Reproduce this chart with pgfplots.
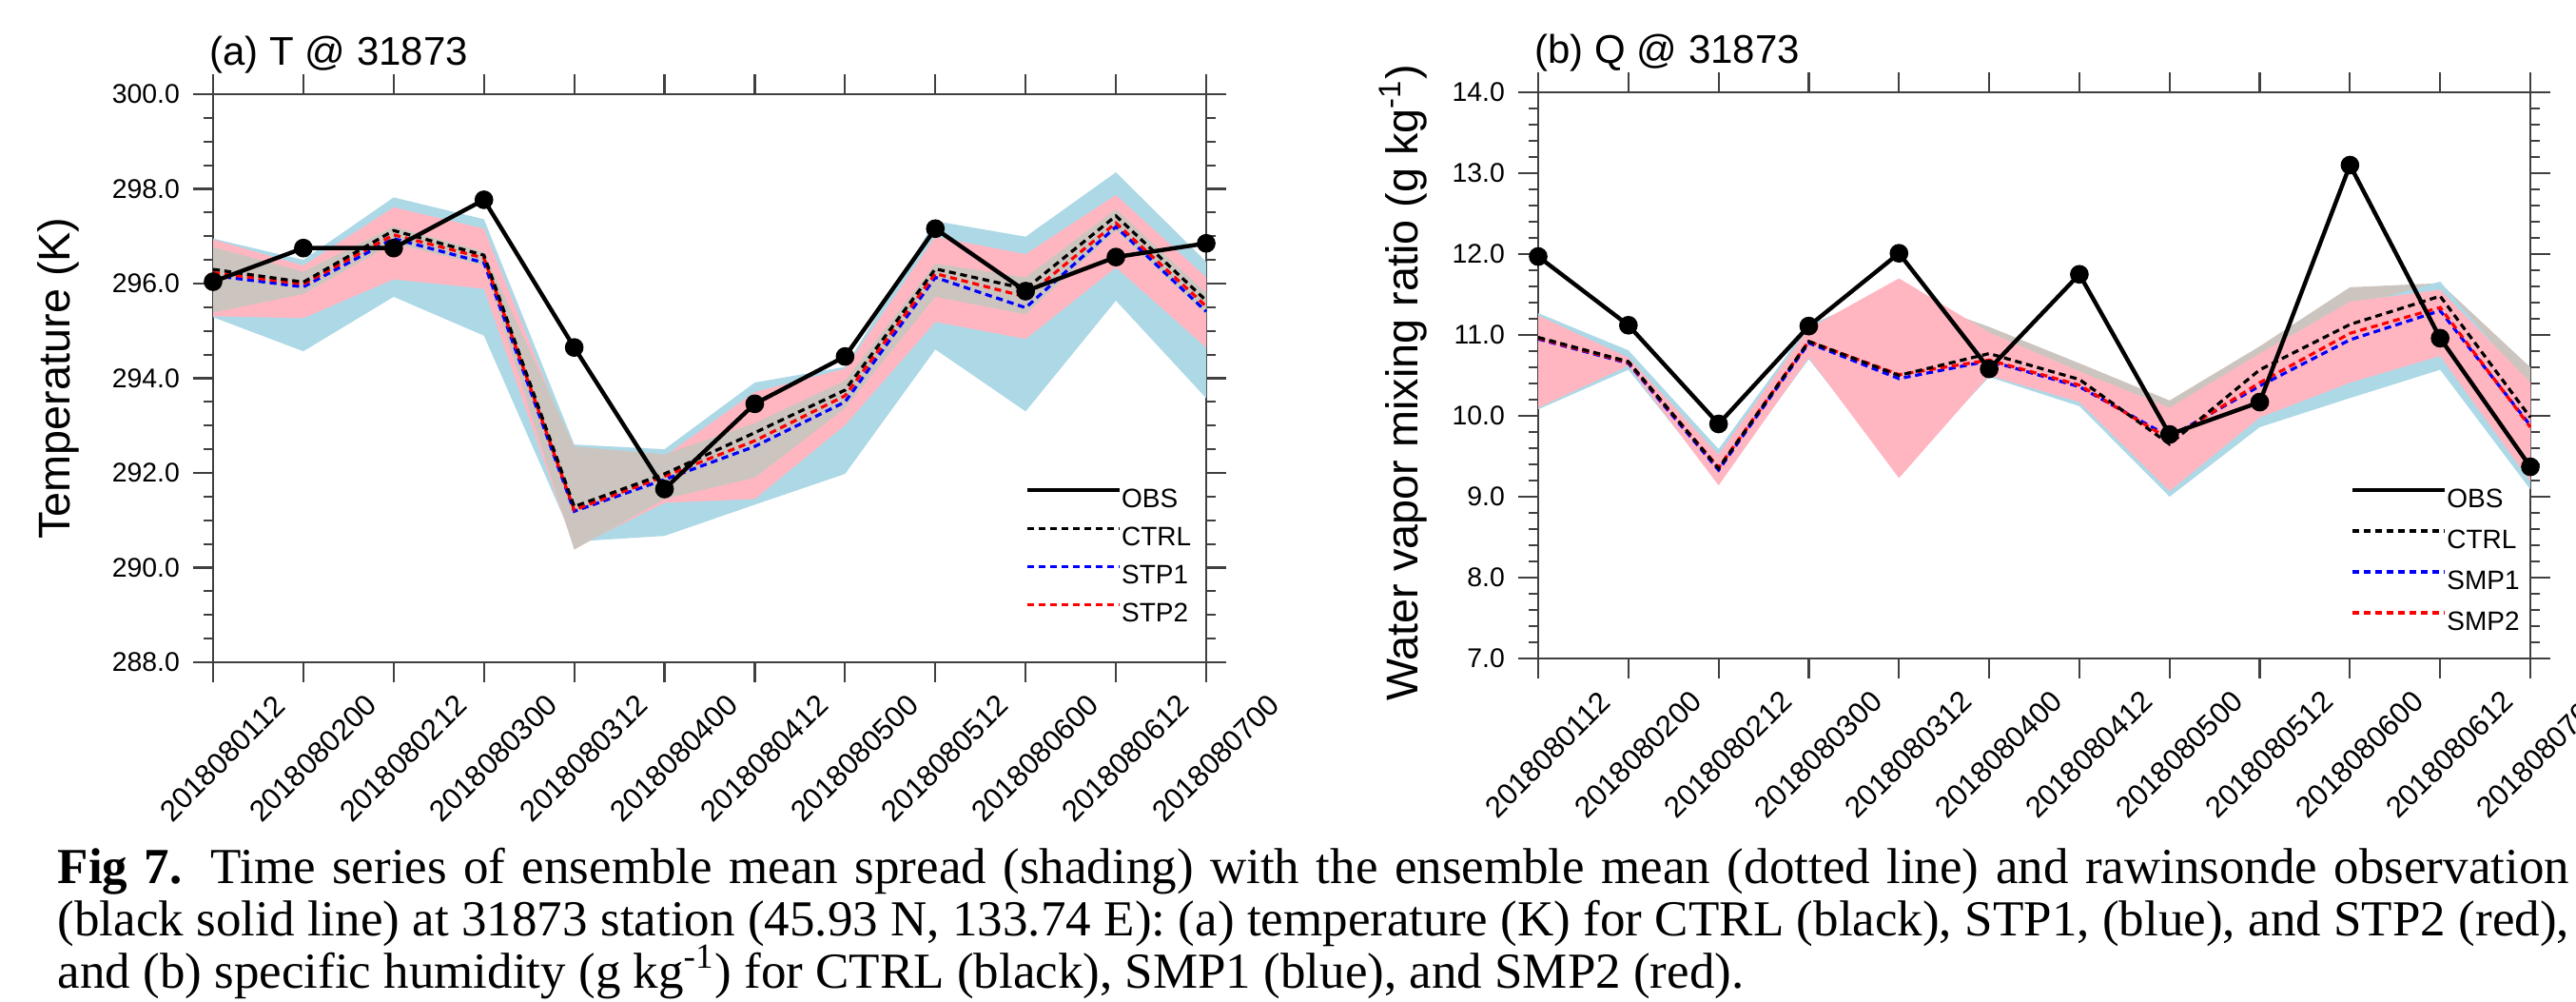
\documentclass[border=0pt]{standalone}
\usepackage{fontspec}
\setmainfont{Liberation Sans}
\newfontfamily\capfont{Liberation Serif}
\usepackage{pgfplots}
\pgfplotsset{compat=1.18}
\definecolor{bandblue}{RGB}{173,216,230}
\definecolor{bandpink}{RGB}{255,182,193}
\definecolor{bandgray}{RGB}{204,197,191}
\pgfplotsset{
  common/.style={
    scale only axis, anchor=south west, clip=false,
    xmin=0, xmax=11, xtick={0,...,11},
    xticklabels={2018080112,2018080200,2018080212,2018080300,2018080312,2018080400,2018080412,2018080500,2018080512,2018080600,2018080612,2018080700},
    tick align=outside, xtick pos=both, ytick pos=both,
    xticklabel pos=lower, yticklabel pos=left,
    major tick length=5.25pt, minor tick length=2.5pt,
    axis line style={draw=black!75, line width=0.7pt},
    every tick/.style={draw=black!75, line width=0.55pt},
    yticklabel style={font=\fontsize{7.1}{8}\selectfont},
    /pgf/number format/fixed, /pgf/number format/fixed zerofill,
    /pgf/number format/precision=1, /pgf/number format/assume math mode=true,
    xticklabel style={font=\fontsize{7.8}{9}\selectfont, xshift=2.5pt, yshift=-20pt, rotate=45, anchor=center},
    ylabel style={font=\fontsize{11.7}{14}\selectfont, anchor=base},
    every axis title shift=0pt,
    title style={font=\fontsize{10.5}{13}\selectfont, at={(axis description cs:-0.004,1)}, anchor=base west, inner sep=0pt, yshift=7.75pt},
    legend style={draw=none, fill=none, anchor=north west, font=\fontsize{7}{8}\selectfont,
      inner sep=0pt, nodes={inner sep=0pt, text height=5pt, text depth=1pt}},
    legend image code/.code={\draw[##1] (0pt,2.5pt) -- (24.25pt,2.5pt);},
    legend cell align=left,
  },
  obs/.style={black, line width=1.1pt, mark=*, mark size=1.9pt, mark options={solid}},
  dsh/.style={line width=0.8pt, dash pattern=on 1.8pt off 1.2pt},
}
\begin{document}
\begin{tikzpicture}
\path[use as bounding box] (0pt,0pt) rectangle (677pt,263pt);

% ---------------- panel (a)
\begin{axis}[common, at={(56pt,89pt)}, width=261pt, height=149.25pt,
  ymin=288, ymax=300, ytick={288,290,292,294,296,298,300}, minor y tick num=3,
  ylabel={Temperature (K)}, ylabel style={at={(axis description cs:-0.1446,0.5)}},
  title={(a) T @ 31873},
  legend style={at={(axis description cs:0.817,0.308)}, row sep=4pt}]
\addplot[fill=bandblue, draw=none, forget plot] coordinates {
 (0,296.95)(1,296.50)(2,297.82)(3,297.36)(4,292.60)(5,292.50)(6,293.91)(7,294.24)(8,297.32)(9,296.99)(10,298.35)(11,296.46)
 (11,293.58)(10,295.64)(9,293.30)(8,294.61)(7,291.98)(6,291.33)(5,290.67)(4,290.55)(3,294.90)(2,295.72)(1,294.57)(0,295.29)};
\addplot[fill=bandpink, draw=none, forget plot] coordinates {
 (0,296.93)(1,296.38)(2,297.61)(3,297.16)(4,292.40)(5,292.35)(6,293.71)(7,294.20)(8,296.99)(9,296.62)(10,297.87)(11,296.13)
 (11,294.65)(10,296.34)(9,294.83)(8,295.19)(7,293.01)(6,291.45)(5,291.37)(4,290.42)(3,295.89)(2,296.09)(1,295.27)(0,295.31)};
\addplot[fill=bandgray, draw=none, forget plot] coordinates {
 (0,296.77)(1,296.25)(2,297.20)(3,296.67)(4,292.56)(5,292.39)(6,293.05)(7,293.95)(8,296.42)(9,296.13)(10,297.57)(11,295.80)
 (11,295.35)(10,297.12)(9,295.35)(8,295.72)(7,293.37)(6,291.90)(5,291.45)(4,290.38)(3,296.38)(2,296.85)(1,295.78)(0,295.39)};
\addplot[dsh, blue, forget plot] coordinates {(0,296.17)(1,295.93)(2,296.95)(3,296.44)(4,291.19)(5,291.86)(6,292.56)(7,293.50)(8,296.13)(9,295.49)(10,297.20)(11,295.41)};
\addplot[dsh, red, forget plot] coordinates {(0,296.23)(1,295.99)(2,297.03)(3,296.54)(4,291.22)(5,291.93)(6,292.68)(7,293.63)(8,296.21)(9,295.72)(10,297.28)(11,295.52)};
\addplot[dsh, black, forget plot] coordinates {(0,296.30)(1,296.03)(2,297.12)(3,296.60)(4,291.29)(5,291.98)(6,292.85)(7,293.75)(8,296.31)(9,295.89)(10,297.43)(11,295.64)};
\addplot[obs, forget plot] coordinates {(0,296.04)(1,296.75)(2,296.75)(3,297.77)(4,294.65)(5,291.66)(6,293.46)(7,294.46)(8,297.16)(9,295.84)(10,296.56)(11,296.85)};
\addlegendimage{black, line width=1.1pt}\addlegendentry{OBS}
\addlegendimage{dsh, black}\addlegendentry{CTRL}
\addlegendimage{dsh, blue}\addlegendentry{STP1}
\addlegendimage{dsh, red}\addlegendentry{STP2}
\end{axis}

% ---------------- panel (b)
\begin{axis}[common, at={(404.25pt,90pt)}, width=260.75pt, height=148.75pt,
  ymin=7, ymax=14, ytick={7,8,9,10,11,12,13,14}, minor y tick num=4,
  ylabel={Water vapor mixing ratio (g kg\textsuperscript{-1})}, ylabel style={at={(axis description cs:-0.1217,0.487)}},
  title={(b) Q @ 31873},
  legend style={at={(axis description cs:0.818,0.3025)}, row sep=4.75pt}]
\addplot[fill=bandgray, draw=none, forget plot] coordinates {
 (0,11.20)(1,10.70)(2,9.50)(3,11.00)(4,11.50)(5,11.10)(6,10.65)(7,10.19)(8,10.86)(9,11.59)(10,11.64)(11,10.60)
 (11,9.30)(10,10.80)(9,10.50)(8,10.05)(7,9.15)(6,10.22)(5,10.55)(4,9.50)(3,10.76)(2,9.22)(1,10.64)(0,10.30)};
\addplot[fill=bandblue, draw=none, forget plot] coordinates {
 (0,11.27)(1,10.81)(2,9.59)(3,11.12)(4,11.60)(5,11.00)(6,10.50)(7,10.05)(8,10.70)(9,11.35)(10,11.66)(11,10.35)
 (11,9.09)(10,10.57)(9,10.22)(8,9.86)(7,9.00)(6,10.12)(5,10.48)(4,9.30)(3,10.70)(2,9.18)(1,10.57)(0,10.08)};
\addplot[fill=bandpink, draw=none, forget plot] coordinates {
 (0,11.24)(1,10.72)(2,9.52)(3,11.08)(4,11.70)(5,11.03)(6,10.55)(7,10.10)(8,10.77)(9,11.41)(10,11.56)(11,10.41)
 (11,9.19)(10,10.74)(9,10.41)(8,9.98)(7,9.07)(6,10.17)(5,10.50)(4,9.23)(3,10.72)(2,9.14)(1,10.62)(0,10.10)};
\addplot[dsh, blue, forget plot] coordinates {(0,10.95)(1,10.65)(2,9.33)(3,10.90)(4,10.46)(5,10.68)(6,10.36)(7,9.74)(8,10.37)(9,10.94)(10,11.30)(11,9.88)};
\addplot[dsh, red, forget plot] coordinates {(0,10.96)(1,10.66)(2,9.36)(3,10.92)(4,10.51)(5,10.69)(6,10.38)(7,9.71)(8,10.41)(9,11.02)(10,11.34)(11,9.86)};
\addplot[dsh, black, forget plot] coordinates {(0,10.97)(1,10.67)(2,9.35)(3,10.92)(4,10.50)(5,10.77)(6,10.45)(7,9.65)(8,10.57)(9,11.13)(10,11.48)(11,9.98)};
\addplot[obs, forget plot] coordinates {(0,11.97)(1,11.12)(2,9.90)(3,11.11)(4,12.01)(5,10.58)(6,11.75)(7,9.77)(8,10.17)(9,13.10)(10,10.96)(11,9.37)};
\addlegendimage{black, line width=1.1pt}\addlegendentry{OBS}
\addlegendimage{dsh, black}\addlegendentry{CTRL}
\addlegendimage{dsh, blue}\addlegendentry{SMP1}
\addlegendimage{dsh, red}\addlegendentry{SMP2}
\end{axis}

% ---------------- caption
\begin{scope}[every node/.style={anchor=base west, inner sep=0pt, font=\capfont\fontsize{13.25}{15}\selectfont}]
\node at (15pt,31pt) {\makebox[660pt][s]{\textbf{Fig 7.} Time series of ensemble mean spread (shading) with the ensemble mean (dotted line) and rawinsonde observation}};
\node at (15pt,17.25pt) {\makebox[660pt][s]{(black solid line) at 31873 station (45.93 N, 133.74 E): (a) temperature (K) for CTRL (black), STP1, (blue), and STP2 (red),}};
\node at (15pt,3.5pt) {and (b) specific humidity (g kg\textsuperscript{-1}) for CTRL (black), SMP1 (blue), and SMP2 (red).};
\end{scope}
\end{tikzpicture}
\end{document}
